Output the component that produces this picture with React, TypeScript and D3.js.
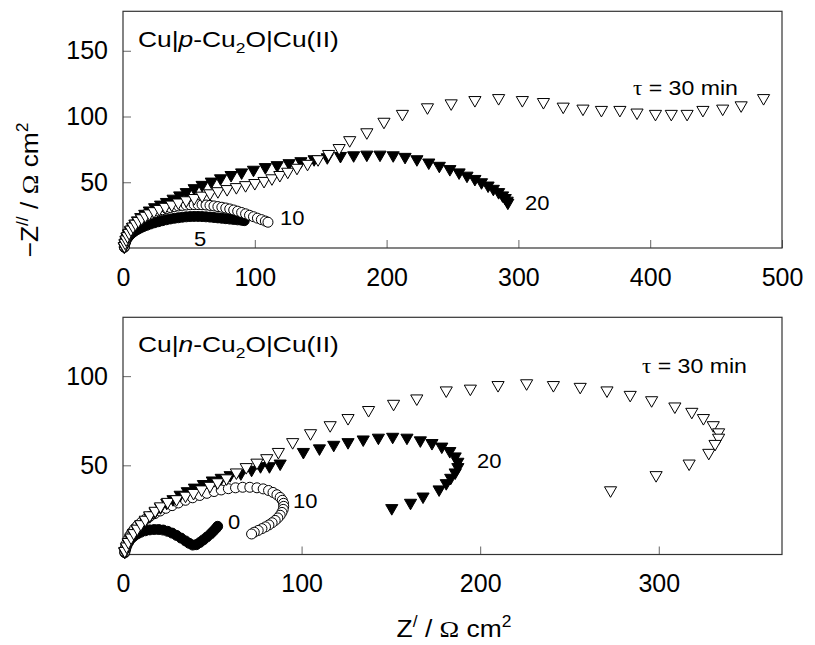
import React, { useEffect, useRef } from "react";
import * as d3 from "d3";

type Pt = [number, number];

// Cu|p-Cu2O|Cu(II): Z' (x) vs -Z'' (y), ohm cm2, for each tau (min)
const pTau5: Pt[] = [
  [1, 0.5], [1.3, 2.5], [1.8, 4.3], [2.5, 6], [3.4, 7.6], [4.5, 9], [5.8, 10.4], [7.3, 11.7],
  [9, 12.9], [11, 14.1], [13.2, 15.2], [15.6, 16.3], [18.2, 17.3], [21, 18.3], [24, 19.2],
  [27, 20], [30, 20.8], [33, 21.5], [36, 22.1], [39, 22.6], [42, 23], [45, 23.4], [48, 23.7],
  [51, 23.9], [54, 24], [57, 24], [60, 23.9], [63, 23.7], [66, 23.5], [69, 23.2], [72, 22.9],
  [75, 22.6], [78, 22.3], [81, 22], [84, 21.7], [87, 21.4], [90, 21.1], [92, 20.8],
];
const pTau10: Pt[] = [
  [1, 1], [1.3, 3.5], [1.8, 6], [2.5, 8.3], [3.4, 10.5], [4.5, 12.6], [5.8, 14.6], [7.3, 16.5],
  [9, 18.3], [11, 20], [13.2, 21.6], [15.6, 23.1], [18.2, 24.5], [21, 25.8], [24, 27],
  [27, 28.1], [30, 29.1], [33, 30], [36, 30.8], [39, 31.5], [42, 32], [45, 32.4], [48, 32.7],
  [51, 32.9], [54, 33], [57, 33], [60, 32.9], [63, 32.7], [66, 32.4], [69, 32], [72, 31.5],
  [75, 31], [78, 30.4], [81, 29.7], [84, 28.9], [87, 28], [90, 27], [93, 26], [96, 24.9],
  [99, 23.8], [102, 22.7], [105, 21.6], [108, 20.5], [110, 19.6],
];
const pTau20: Pt[] = [
  [1, 1], [1.5, 3.5], [2.2, 6], [3, 8.5], [4.2, 11], [5.6, 13.5], [7.2, 16], [9, 18.5],
  [11, 21], [13.5, 23.5], [16.5, 26], [20, 28.5], [24, 31], [28.5, 33], [33, 35], [38, 37.5],
  [43, 40], [48, 42.5], [54, 45.5], [60, 48], [67, 50.5], [74, 53], [82, 55.5], [90, 57.5],
  [99, 59.5], [108, 61.5], [117, 63], [126, 64.5], [135, 66], [145, 67.5], [155, 69],
  [165, 70], [175, 70.5], [185, 71], [195, 71], [205, 70.5], [214, 69.3], [223, 67.5],
  [232, 65], [240, 62.5], [248, 60], [255, 57.5], [261, 55], [267, 52.5], [272, 50],
  [277, 47.5], [281, 45], [285, 42.5], [288, 40], [290, 38], [291.5, 36], [292, 34.5],
];
const pTau30: Pt[] = [
  [1, 1.5], [1.6, 4], [2.4, 6.5], [3.4, 9], [4.6, 11.5], [6, 14], [7.6, 16.3], [9.5, 18.5],
  [11.7, 20.6], [14.2, 22.6], [17, 24.5], [20, 26.3], [23.5, 28], [27.5, 29.7], [32, 31.3],
  [37, 33], [42, 34.6], [48, 36.3], [54, 38], [60, 39.8], [66, 41.6], [72, 43.2], [79, 44.8],
  [86, 46.3], [93, 47.8], [100, 49.4], [107, 51], [113, 53], [119, 55.5], [125, 58],
  [132, 61], [140, 64], [148, 67.5], [156, 71.5], [164, 76], [172, 82], [185, 88], [198, 96],
  [212, 102], [231, 107], [249, 110], [267, 112.5], [285, 114], [303, 112.5], [319, 111],
  [334, 107.5], [349, 106], [363, 105], [377, 105], [390, 103], [404, 102], [416, 102],
  [428, 102], [440, 105], [455, 106], [469, 108.5], [486, 114],
];

// Cu|n-Cu2O|Cu(II)
const nTau0: Pt[] = [
  [1, 1], [1.5, 3], [2.2, 5], [3.2, 7], [4.5, 8.8], [6, 10.2], [8, 11.5], [10, 12.5],
  [12.5, 13.3], [15, 13.8], [17.5, 14], [20, 14], [22.5, 13.7], [25, 13], [27.5, 12],
  [30, 10.7], [32.5, 9.2], [35, 7.6], [37, 6.3], [39, 5.3], [41, 5.5], [43, 6.7], [45, 8.2],
  [47, 9.8], [49, 11.5], [50.5, 13], [52, 14.6], [53, 15.8],
];
const nTau10: Pt[] = [
  [1, 1.5], [1.4, 4], [2, 6.3], [2.8, 8.5], [3.8, 10.6], [5, 12.6], [6.5, 14.5], [8.2, 16.3],
  [10.2, 18], [12.5, 19.7], [15, 21.3], [17.8, 22.9], [20.8, 24.4], [24, 25.9], [27.5, 27.4],
  [31, 28.9], [35, 30.4], [39, 31.8], [43, 33.1], [47, 34.3], [51, 35.3], [55, 36.2],
  [59, 36.9], [63, 37.4], [67, 37.7], [71, 37.7], [75, 37.4], [78.5, 36.8], [81.5, 35.9],
  [84, 34.8], [86.2, 33.5], [88, 32], [89.2, 30.4], [89.9, 28.7], [90, 27], [89.7, 25.3],
  [89, 23.6], [88, 22], [86.7, 20.5], [85.2, 19.1], [83.5, 17.8], [81.7, 16.6], [79.8, 15.5],
  [77.8, 14.5], [75.7, 13.5], [73.5, 12.5], [72, 11.5],
];
const nTau20: Pt[] = [
  [1, 1.5], [2, 4], [3, 6.5], [4.5, 9], [6, 11.5], [8, 14], [10, 16.5], [12.5, 19],
  [15, 21.5], [18, 24], [21, 26.5], [24.5, 29], [28, 31], [32, 33.5], [36, 35.5], [40, 37.5],
  [45, 39.5], [50, 41.5], [55, 43], [60, 44.5], [66, 45.5], [72, 47.5], [77, 49.5], [82, 49.5],
  [88, 51], [101, 57.5], [110, 59.5], [118, 61.5], [126, 63], [134.5, 64.5], [143, 65.5],
  [151, 66], [159, 65.5], [166.5, 64], [173, 62.5], [178.5, 60.5], [183, 58], [186, 55],
  [187.5, 52], [187.5, 49], [186, 46], [183.5, 43], [181, 40], [177, 36.5], [168, 32.5],
  [161, 29], [150.5, 26],
];
const nTau30: Pt[] = [
  [1, 2], [2, 4.5], [3, 7], [4.5, 9.5], [6, 12], [8, 14.5], [10, 17], [12.5, 19.5], [15, 22],
  [18, 24.5], [21, 27], [25, 29.5], [30, 31], [35, 33], [39.5, 34.5], [44, 36.5], [48.7, 38.5],
  [53, 40.5], [58, 42.7], [63.5, 46], [69, 49], [75, 51.5], [80.5, 54], [87, 57.5], [95, 63],
  [105, 68], [116, 72.5], [126, 76.5], [137.5, 81], [151.5, 84.5], [164.5, 87.5], [181, 92],
  [194.5, 93], [210, 95], [226, 96], [241, 95], [256, 94], [271, 92], [284, 89.5], [296, 86.5],
  [309, 83], [318.5, 80], [325, 76.5], [330.5, 72.5], [333.5, 68.5], [333.5, 65.5],
  [331.5, 62], [328, 57], [317, 51], [298.5, 44.5], [273, 36],
];

const topXTicks = [0, 100, 200, 300, 400, 500];
const topYTicks = [50, 100, 150];
const botXTicks = [0, 100, 200, 300];
const botYTicks = [50, 100];

type Part = { t: string; sub?: boolean; sup?: boolean; it?: boolean; serif?: boolean };

function richText(parent: any, x: number, y: number, size: number, parts: Part[], anchor = "start", rot = 0, sx = 1.1) {
  const g = parent.append("g").attr("transform", `translate(${x},${y}) rotate(${rot}) scale(${sx},1)`);
  const text = g.append("text").attr("font-size", size).attr("text-anchor", anchor).attr("fill", "#000");
  let shift = 0;
  parts.forEach((p) => {
    const target = p.sub ? 0.28 * size : p.sup ? -0.42 * size : 0;
    const ts = text.append("tspan").text(p.t).attr("dy", target - shift);
    shift = target;
    if (p.sub || p.sup) ts.attr("font-size", size * 0.66);
    if (p.it) ts.attr("font-style", "italic");
    if (p.serif) ts.attr("font-family", "Liberation Serif, serif");
  });
}

function drawPanel(svg: any, cfg: any) {
  const x = d3.scaleLinear().domain([0, cfg.xMax]).range([123, 782]);
  const y = d3.scaleLinear().domain([0, cfg.yMax]).range([cfg.bottom, cfg.top]);

  svg.append("g")
    .attr("transform", `translate(0,${cfg.bottom})`)
    .call(d3.axisBottom(x).tickValues(cfg.xTicks).tickSize(-8).tickPadding(20).tickFormat(d3.format("d")))
    .call((g: any) => g.select(".domain").remove())
    .call((g: any) => g.selectAll("line").attr("stroke", "#666"))
    .call((g: any) => g.selectAll("text").attr("font-size", 25).attr("font-family", "Liberation Sans, Arial, sans-serif").attr("fill", "#000"));

  svg.append("g")
    .attr("transform", "translate(123,0)")
    .call(d3.axisLeft(y).tickValues(cfg.yTicks).tickSize(-8).tickPadding(15).tickFormat(d3.format("d")))
    .call((g: any) => g.select(".domain").remove())
    .call((g: any) => g.selectAll("line").attr("stroke", "#666"))
    .call((g: any) => g.selectAll("text").attr("font-size", 25).attr("font-family", "Liberation Sans, Arial, sans-serif").attr("fill", "#000"));

  svg.append("rect")
    .attr("x", 123).attr("y", cfg.top)
    .attr("width", 782 - 123).attr("height", cfg.bottom - cfg.top)
    .attr("fill", "none").attr("stroke", "#333").attr("stroke-width", 1.2);

  const tri = d3.symbol().type(d3.symbolTriangle).size(64)();

  cfg.series.forEach((s: any) => {
    const g = svg.append("g");
    if (s.shape === "circle") {
      g.selectAll("circle").data(s.data).enter().append("circle")
        .attr("cx", (d: Pt) => x(d[0])).attr("cy", (d: Pt) => y(d[1]))
        .attr("r", 5)
        .attr("fill", s.filled ? "#000" : "#fff").attr("stroke", "#000").attr("stroke-width", 1);
    } else {
      g.selectAll("path").data(s.data).enter().append("path")
        .attr("d", tri)
        .attr("transform", (d: Pt) => `translate(${x(d[0])},${y(d[1])}) rotate(180)`)
        .attr("fill", s.filled ? "#000" : "#fff").attr("stroke", "#000").attr("stroke-width", 1);
    }
  });
}

export default function App() {
  const ref = useRef<SVGSVGElement>(null);

  useEffect(() => {
    const svg = d3.select(ref.current);
    svg.selectAll("*").remove();

    drawPanel(svg, {
      xMax: 500, yMax: 180, top: 11.3, bottom: 248,
      xTicks: topXTicks, yTicks: topYTicks,
      series: [
        { data: pTau5, shape: "circle", filled: true },
        { data: pTau10, shape: "circle", filled: false },
        { data: pTau20, shape: "tri", filled: true },
        { data: pTau30, shape: "tri", filled: false },
      ],
    });
    drawPanel(svg, {
      xMax: 369, yMax: 133, top: 317.3, bottom: 554.5,
      xTicks: botXTicks, yTicks: botYTicks,
      series: [
        { data: nTau0, shape: "circle", filled: true },
        { data: nTau10, shape: "circle", filled: false },
        { data: nTau20, shape: "tri", filled: true },
        { data: nTau30, shape: "tri", filled: false },
      ],
    });

    // panel titles
    const title = (it: string): Part[] => [
      { t: "Cu|" }, { t: it, it: true }, { t: "-Cu" }, { t: "2", sub: true }, { t: "O|Cu(II)" },
    ];
    richText(svg, 138, 47, 22, title("p"), "start", 0, 1.2);
    richText(svg, 138, 352, 22, title("n"), "start", 0, 1.2);

    const tau: Part[] = [{ t: "τ", serif: true }, { t: " = 30 min" }];
    richText(svg, 633, 95, 21, tau);
    richText(svg, 642, 373, 21, tau);

    // curve labels
    richText(svg, 525, 210, 20, [{ t: "20" }]);
    richText(svg, 280, 225, 20, [{ t: "10" }]);
    richText(svg, 194, 246, 20, [{ t: "5" }]);
    richText(svg, 477, 468, 20, [{ t: "20" }]);
    richText(svg, 293, 508, 20, [{ t: "10" }]);
    richText(svg, 228, 529, 20, [{ t: "0" }]);

    // axis titles
    richText(svg, 38, 190, 24, [
      { t: "−Z" }, { t: "//", sup: true }, { t: " / " }, { t: "Ω", serif: true }, { t: " cm" }, { t: "2", sup: true },
    ], "middle", -90, 1.1);
    richText(svg, 454, 637, 24, [
      { t: "Z" }, { t: "/", sup: true }, { t: " / " }, { t: "Ω", serif: true }, { t: " cm" }, { t: "2", sup: true },
    ], "middle", 0, 1.1);
  }, []);

  return (
    <svg
      ref={ref}
      width={815}
      height={645}
      fontFamily="Liberation Sans, Arial, sans-serif"
      style={{ position: "absolute", left: 0, top: 0, background: "#fff" }}
    />
  );
}
